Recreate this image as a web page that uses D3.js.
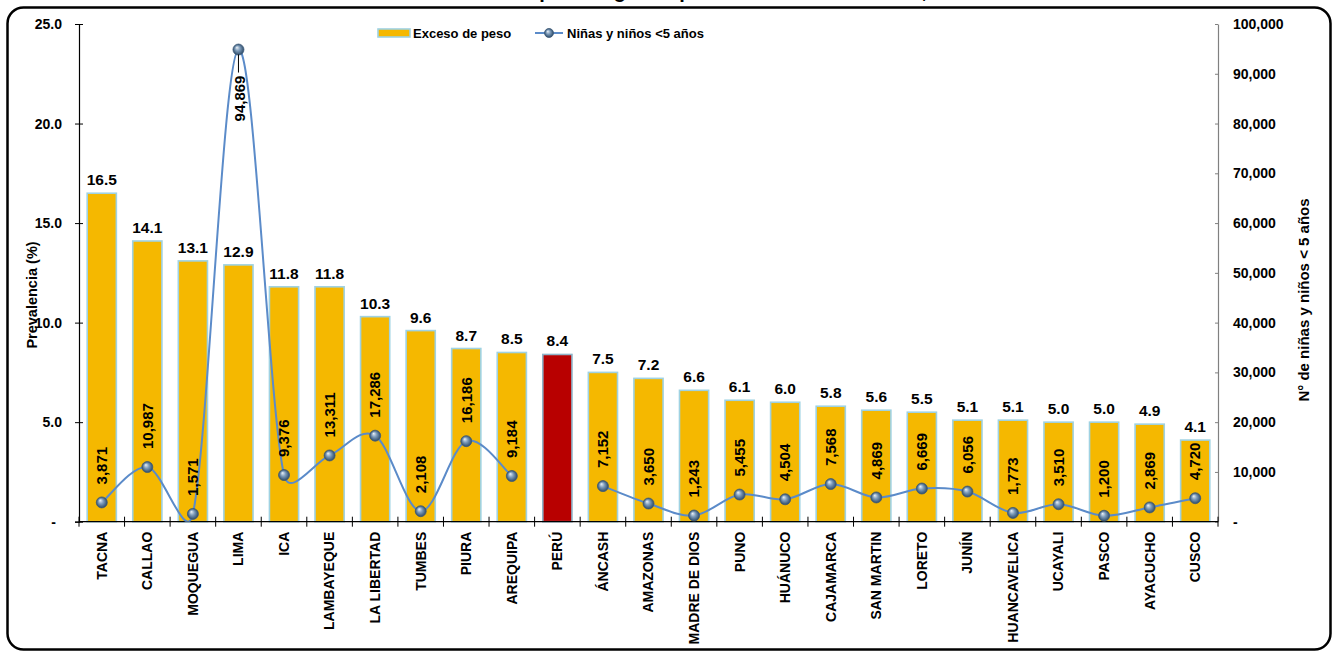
<!DOCTYPE html>
<html lang="es">
<head>
  <meta charset="UTF-8">
  <title>exceso-de-peso</title>
  <script type="text/javascript" src="https://cdn.jsdelivr.net/npm/d3@7/dist/d3.min.js"></script>
  <style>
    body { margin: 0; background: #fff; }
    text { font-family: Arial, "Liberation Sans", sans-serif; font-weight: bold; fill: #000; }
  </style>
</head>
<body>
<div id="chart"></div>
<script type="text/javascript">
    // datos
    let regiones = ["TACNA", "CALLAO", "MOQUEGUA", "LIMA", "ICA", "LAMBAYEQUE", "LA LIBERTAD", "TUMBES",
        "PIURA", "AREQUIPA", "PERÚ", "ÁNCASH", "AMAZONAS", "MADRE DE DIOS", "PUNO", "HUÁNUCO",
        "CAJAMARCA", "SAN MARTIN", "LORETO", "JUNÍN", "HUANCAVELICA", "UCAYALI", "PASCO", "AYACUCHO", "CUSCO"];
    let exceso = [16.5, 14.1, 13.1, 12.9, 11.8, 11.8, 10.3, 9.6, 8.7, 8.5, 8.4, 7.5, 7.2, 6.6, 6.1, 6.0,
        5.8, 5.6, 5.5, 5.1, 5.1, 5.0, 5.0, 4.9, 4.1];
    let ninos = [3871, 10987, 1571, 94869, 9376, 13311, 17286, 2108, 16186, 9184, null, 7152, 3650, 1243,
        5455, 4504, 7568, 4869, 6669, 6056, 1773, 3510, 1200, 2869, 4720];
    let ticksIzq = [0, 5, 10, 15, 20, 25];
    let ticksDer = [0, 10000, 20000, 30000, 40000, 50000, 60000, 70000, 80000, 90000, 100000];

    let width = 1335, height = 653;
    let pLeft = 79, pRight = 1218, pTop = 24, pBottom = 521.7;

    let svg = d3.select("#chart").append("svg").attr("width", width).attr("height", height);

    let defs = svg.append("defs");
    let grad = defs.append("radialGradient").attr("id", "bola").attr("fx", "35%").attr("fy", "30%");
    grad.append("stop").attr("offset", "0%").attr("stop-color", "#eef3f8");
    grad.append("stop").attr("offset", "45%").attr("stop-color", "#7f9dbb");
    grad.append("stop").attr("offset", "100%").attr("stop-color", "#2c4a68");
    defs.append("clipPath").attr("id", "plot").append("rect")
        .attr("x", pLeft).attr("y", 0).attr("width", pRight - pLeft).attr("height", pBottom);

    // marco
    svg.append("rect").attr("x", 7.5).attr("y", 7.5).attr("width", 1323).attr("height", 642)
        .attr("rx", 16).attr("fill", "none").attr("stroke", "#000").attr("stroke-width", 2.5);

    // título (cortado en la imagen original)
    svg.append("text").attr("x", 706).attr("y", -2).attr("text-anchor", "middle")
        .style("font-size", "20px").text("Exceso de peso según departamento de residencia, 2016");

    let x = d3.scaleBand().domain(regiones).range([pLeft, pRight]).paddingInner(0.36).paddingOuter(0.18);
    let y = d3.scaleLinear().domain([0, 25]).range([pBottom, pTop]);
    let y2 = d3.scaleLinear().domain([0, 100000]).range([pBottom, pTop]);
    let data = regiones.map((r, i) => ({region: r, exceso: exceso[i], ninos: ninos[i]}));

    // barras
    svg.append("g").selectAll("rect").data(data).join("rect")
        .attr("x", d => x(d.region)).attr("y", d => y(d.exceso))
        .attr("width", x.bandwidth()).attr("height", d => pBottom - y(d.exceso))
        .attr("fill", d => d.region === "PERÚ" ? "#b80000" : "#f5b800")
        .attr("stroke", d => d.region === "PERÚ" ? "#8fb4c8" : "#9fd2e2").attr("stroke-width", 1.6);

    svg.append("g").selectAll("text").data(data).join("text")
        .attr("x", d => x(d.region) + x.bandwidth() / 2).attr("y", d => y(d.exceso) - 8)
        .attr("text-anchor", "middle").style("font-size", "15.5px")
        .text(d => d.exceso.toFixed(1));

    // eje izquierdo
    let axL = svg.append("g").attr("transform", "translate(" + pLeft + ",0)")
        .call(d3.axisLeft(y).tickValues(ticksIzq).tickSize(4).tickPadding(13)
            .tickFormat(d => d === 0 ? "-" : d.toFixed(1)));
    axL.select(".domain").attr("stroke", "#000").attr("stroke-width", 1.2);
    axL.selectAll(".tick line").attr("x1", 4).attr("x2", -4).attr("stroke", "#000");
    axL.selectAll(".tick text").style("font-size", "14px").style("font-family", "Arial, 'Liberation Sans'")
        .attr("dx", d => d === 0 ? "-6" : "0");

    // eje derecho
    let axR = svg.append("g").attr("transform", "translate(" + pRight + ",0)")
        .call(d3.axisRight(y2).tickValues(ticksDer).tickSize(0).tickPadding(15)
            .tickFormat(d => d === 0 ? "-" : d3.format(",")(d)));
    axR.select(".domain").attr("stroke", "#808080").attr("stroke-width", 1.2);
    axR.selectAll(".tick line").attr("x1", -3).attr("x2", 0).attr("stroke", "#808080");
    axR.selectAll(".tick text").style("font-size", "14px").style("font-family", "Arial, 'Liberation Sans'");

    // eje x con marcas entre categorías
    let gx = svg.append("g");
    gx.append("line").attr("x1", pLeft).attr("x2", pRight).attr("y1", pBottom).attr("y2", pBottom)
        .attr("stroke", "#000").attr("stroke-width", 1.2);
    let cortes = regiones.map(r => x(r) - x.step() * 0.18).concat([pRight]);
    gx.selectAll("line.t").data(cortes).join("line").attr("class", "t")
        .attr("x1", d => d).attr("x2", d => d).attr("y1", pBottom - 5).attr("y2", pBottom + 5)
        .attr("stroke", "#000");
    gx.selectAll("text").data(regiones).join("text")
        .attr("transform", d => "translate(" + (x(d) + x.bandwidth() / 2) + "," + (pBottom + 10) + ") rotate(-90)")
        .attr("dy", "0.35em").attr("text-anchor", "end").style("font-size", "14px").text(d => d);

    // línea suavizada al estilo Excel: tangente de 1/6, limitada a la mitad del tramo
    function suave(p) {
        let path = d3.path();
        path.moveTo(p[0][0], p[0][1]);
        let dist = (a, b) => Math.hypot(b[0] - a[0], b[1] - a[1]);
        let ctrl = (a, b, c, lado) => {
            let d02 = dist(a, c), dl = lado > 0 ? dist(b, c) : dist(a, b);
            let f = d02 > 0 ? Math.min(1 / 6, 0.5 * dl / d02) : 0;
            return [b[0] + lado * (c[0] - a[0]) * f, b[1] + lado * (c[1] - a[1]) * f];
        };
        for (let i = 0; i < p.length - 1; i++) {
            let p0 = p[i - 1] || p[i], p1 = p[i], p2 = p[i + 1], p3 = p[i + 2] || p[i + 1];
            let c1 = ctrl(p0, p1, p2, 1), c2 = ctrl(p1, p2, p3, -1);
            path.bezierCurveTo(c1[0], c1[1], c2[0], c2[1], p2[0], p2[1]);
        }
        return path.toString();
    }
    let tramos = [[]];
    data.forEach(d => {
        if (d.ninos === null) { tramos.push([]); return; }
        tramos[tramos.length - 1].push([x(d.region) + x.bandwidth() / 2, y2(d.ninos)]);
    });
    svg.append("g").attr("clip-path", "url(#plot)").selectAll("path").data(tramos).join("path")
        .attr("d", suave).attr("fill", "none").attr("stroke", "#5b8bc9").attr("stroke-width", 2);

    let pts = data.filter(d => d.ninos !== null);
    svg.append("g").selectAll("circle").data(pts).join("circle")
        .attr("cx", d => x(d.region) + x.bandwidth() / 2).attr("cy", d => y2(d.ninos)).attr("r", 5.5)
        .attr("fill", "url(#bola)").attr("stroke", "#3d5a78").attr("stroke-width", 0.8);

    let fmt = d3.format(",");
    let lbl = svg.append("g");
    pts.forEach(d => {
        let cx = x(d.region) + x.bandwidth() / 2, cy = y2(d.ninos);
        if (d.ninos > 50000) {
            lbl.append("line").attr("x1", cx).attr("x2", cx).attr("y1", cy + 5).attr("y2", cy + 23)
                .attr("stroke", "#000").attr("stroke-width", 1);
            lbl.append("text").attr("transform", "translate(" + (cx + 1) + "," + (cy + 26) + ") rotate(-90)")
                .attr("dy", "0.35em").attr("text-anchor", "end").style("font-size", "15px").text(fmt(d.ninos));
        } else {
            lbl.append("text").attr("transform", "translate(" + cx + "," + (cy - 18) + ") rotate(-90)")
                .attr("dy", "0.35em").attr("text-anchor", "start").style("font-size", "15px").text(fmt(d.ninos));
        }
    });

    // títulos de ejes
    svg.append("text").attr("transform", "translate(32,295) rotate(-90)").attr("dy", "0.35em")
        .attr("text-anchor", "middle").style("font-size", "14.5px").text("Prevalencia (%)");
    svg.append("text").attr("transform", "translate(1304,300) rotate(-90)").attr("dy", "0.35em")
        .attr("text-anchor", "middle").style("font-size", "15px").text("N° de niñas y niños < 5 años");

    // leyenda
    let lg = svg.append("g");
    lg.append("rect").attr("x", 378).attr("y", 29).attr("width", 32).attr("height", 8)
        .attr("fill", "#f5b800").attr("stroke", "#9fd2e2").attr("stroke-width", 1.6);
    lg.append("text").attr("x", 413).attr("y", 37.5).style("font-size", "13px").text("Exceso de peso");
    lg.append("line").attr("x1", 535).attr("x2", 563).attr("y1", 33).attr("y2", 33)
        .attr("stroke", "#5b8bc9").attr("stroke-width", 2);
    lg.append("circle").attr("cx", 549).attr("cy", 33).attr("r", 4.5)
        .attr("fill", "url(#bola)").attr("stroke", "#3d5a78").attr("stroke-width", 0.8);
    lg.append("text").attr("x", 567).attr("y", 37.5).style("font-size", "13px").text("Niñas y niños <5 años");
</script>
</body>
</html>
